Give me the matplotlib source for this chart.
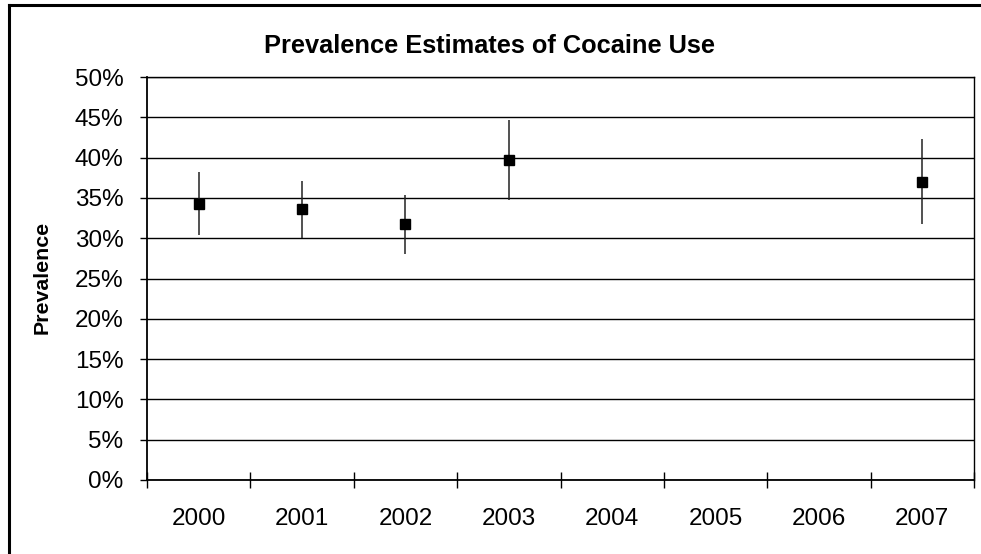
import matplotlib
matplotlib.use("Agg")
import matplotlib.pyplot as plt
from matplotlib.lines import Line2D
from matplotlib.ticker import FixedLocator, PercentFormatter

years = ["2000", "2001", "2002", "2003", "2004", "2005", "2006", "2007"]
est_years = ["2000", "2001", "2002", "2003", "2007"]
estimate = [34.3, 33.6, 31.7, 39.7, 37.0]
lower = [30.4, 30.0, 28.0, 34.7, 31.7]
upper = [38.2, 37.1, 35.4, 44.7, 42.3]
yticks = [0, 5, 10, 15, 20, 25, 30, 35, 40, 45, 50]

plt.rcParams['font.family'] = ['Liberation Sans', 'DejaVu Sans']

W, H = 981, 554
fig = plt.figure(figsize=(W / 100, H / 100), dpi=100)
fig.patch.set_facecolor('white')

L, R, T, B = 147, 974, 77, 480
ax = fig.add_axes([L / W, 1 - B / H, (R - L) / W, (B - T) / H])

xpos = [years.index(y) for y in est_years]
yerr = [[e - lo for e, lo in zip(estimate, lower)], [u - e for e, u in zip(estimate, upper)]]
ax.errorbar(xpos, estimate, yerr=yerr, fmt='s', color='black', ecolor='#222222',
            elinewidth=1.1, capsize=0, markersize=7, zorder=3)

ax.set_xlim(-0.5, len(years) - 0.5)
ax.set_ylim(0, 50)
ax.set_yticks(yticks)
ax.yaxis.set_major_formatter(PercentFormatter(decimals=0))
ax.yaxis.grid(True, color='black', linewidth=1)
ax.set_axisbelow(True)

ax.xaxis.set_major_locator(FixedLocator([i - 0.5 for i in range(len(years) + 1)]))
ax.xaxis.set_minor_locator(FixedLocator(list(range(len(years)))))
ax.set_xticklabels([], minor=False)
ax.set_xticklabels(years, minor=True)
ax.tick_params(axis='x', which='major', direction='inout', length=11, width=1, color='black')
ax.tick_params(axis='x', which='minor', length=0, pad=20, labelsize=17.5)
ax.tick_params(axis='y', direction='out', length=5, width=1, pad=12, labelsize=17.5)

for s in ['left', 'bottom', 'right', 'top']:
    ax.spines[s].set_color('black')
    ax.spines[s].set_linewidth(1)
ax.spines['left'].set_linewidth(1.3)
ax.spines['bottom'].set_linewidth(1.3)

fig.text(490 / W, 1 - 52.7 / H, 'Prevalence Estimates of Cocaine Use', ha='center',
         va='baseline', fontsize=18.3, fontweight='bold')
fig.text(42 / W, 1 - 277 / H, 'Prevalence', rotation=90, ha='center', va='center',
         fontsize=15.4, fontweight='bold')

fig.add_artist(Line2D([8.5 / W, 1.0], [1 - 4.5 / H, 1 - 4.5 / H], color='black', linewidth=2.2,
                      transform=fig.transFigure))
fig.add_artist(Line2D([8.5 / W, 8.5 / W], [1 - 4.5 / H, 0], color='black', linewidth=2.2,
                      transform=fig.transFigure))

fig.savefig('out.png', dpi=100, facecolor='white')
